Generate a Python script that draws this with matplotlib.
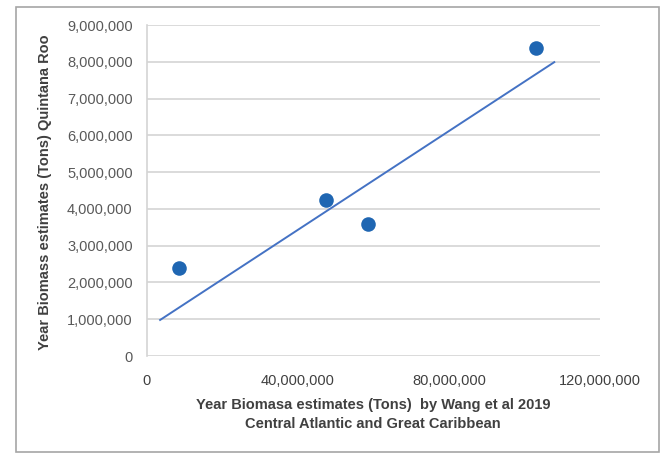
import matplotlib
matplotlib.use("Agg")
import matplotlib.pyplot as plt
from matplotlib.patches import Rectangle
from matplotlib.ticker import FuncFormatter

plt.rcParams['font.family'] = ['Liberation Sans', 'DejaVu Sans']

# Annual biomass estimates (tons)
wang_biomass = [8.65e6, 47.5e6, 58.5e6, 103.0e6]
quintana_roo_biomass = [2.40e6, 4.24e6, 3.58e6, 8.38e6]

# Trend line end points
trend_x = [3.6e6, 107.9e6]
trend_y = [0.98e6, 7.99e6]

x_ticks = [0, 40e6, 80e6, 120e6]
y_ticks = [i * 1e6 for i in range(10)]

W, H = 663, 454
fig = plt.figure(figsize=(W / 100, H / 100), dpi=100)
fig.patch.set_facecolor('white')

# outer chart frame
fig.patches.append(Rectangle((16 / W, 2 / H), 643 / W, 445 / H,
                             transform=fig.transFigure, fill=False,
                             edgecolor='#a6a6a6', linewidth=1.2))

ax = fig.add_axes([146.5 / W, 98 / H, 453.5 / W, 331 / H])
ax.set_xlim(0, 120e6)
ax.set_ylim(0, 9e6)

ax.scatter(wang_biomass, quintana_roo_biomass, s=110, color='#1f66b2',
           zorder=3, linewidths=0)
ax.plot(trend_x, trend_y, color='#4472c4', linewidth=1.4, zorder=2)

ax.set_xticks(x_ticks)
ax.set_yticks(y_ticks)
fmt = FuncFormatter(lambda v, p: f"{int(round(v)):,}")
ax.xaxis.set_major_formatter(fmt)
ax.yaxis.set_major_formatter(fmt)

ax.grid(axis='y', color='#d4d4d4', linewidth=1.2)
ax.set_axisbelow(True)
for side in ['top', 'right', 'bottom']:
    ax.spines[side].set_visible(False)
ax.spines['left'].set_color('#d4d4d4')
ax.spines['left'].set_linewidth(1.2)

ax.tick_params(axis='both', length=0)
ax.tick_params(axis='y', labelsize=10.5, labelcolor='#595959', pad=10)
ax.tick_params(axis='x', labelsize=10.5, labelcolor='#404040', pad=13)

# axis titles
fig.text(373 / W, 1 - 414.5 / H,
         "Year Biomasa estimates (Tons)  by Wang et al 2019\nCentral Atlantic and Great Caribbean",
         ha='center', va='center', fontsize=10.5, fontweight='bold',
         color='#404040', linespacing=1.45)
fig.text(45 / W, 1 - 192 / H, "Year Biomass estimates (Tons) Quintana Roo",
         ha='center', va='center', rotation=90, fontsize=10.5,
         fontweight='bold', color='#404040')

fig.savefig("out.png", dpi=100, facecolor='white')
